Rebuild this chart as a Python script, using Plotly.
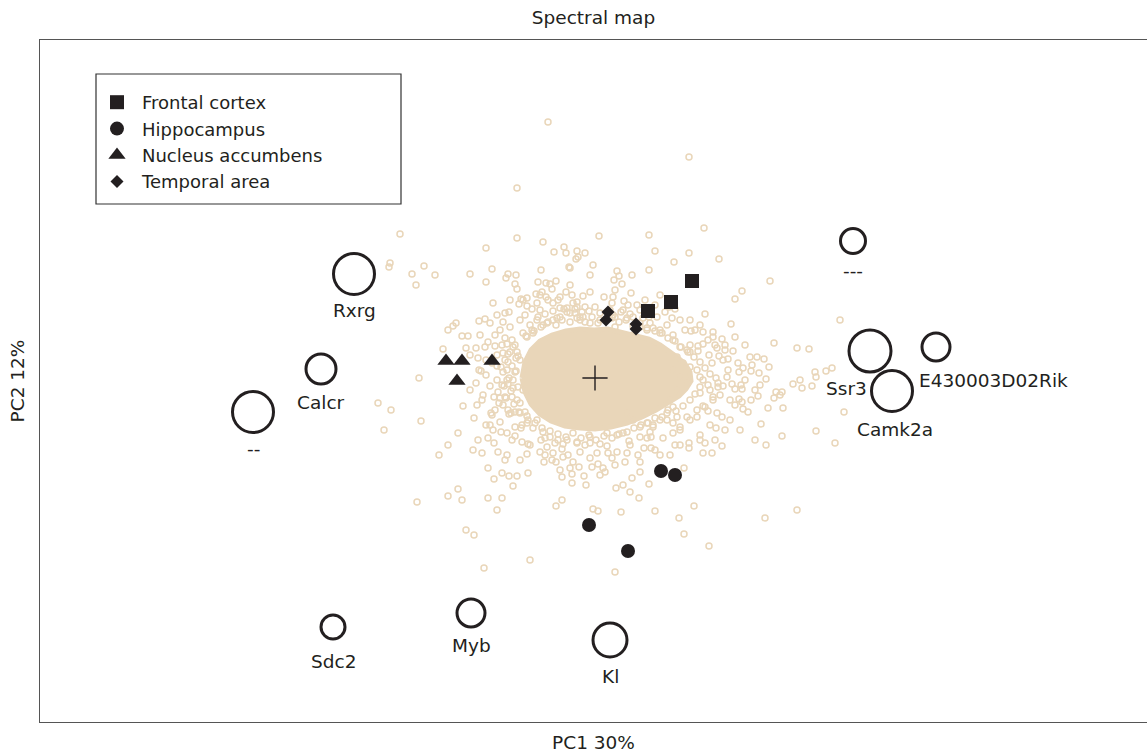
import plotly.graph_objects as go

# ---- PC scores (arbitrary units, centroid at 0,0) ----
# background genes: scattered individual scores
cloud_pc1 = [
    -47, 94, -78, -195, -78, -109, -52, -31, -41, -29, -18, -10, 4, 54, 109, 60, 94, 124, 79, 54,
    175, 147, -205, -206, -183, -171, -179, -160, -125, -103, -109, -87, -89, -79, -80, -78, -54, -57, -49, -45,
    -43, -39, -26, -25, -25, -19, -17, -2, -5, 22, 24, 19, 27, 37, 20, 36, -59, -55, -53, -49,
    -68, -74, -35, -29, 9, 140, -147, -152, -176, -217, -204, -174, -211, -147, -156, -139, -142, -133, -127, -129,
    -116, -110, -105, -119, -110, -100, -102, -98, -86, -116, -114, -119, -105, -132, -137, -121, -122, -113, -101, -97,
    -107, -94, -88, -104, -103, -101, -95, -96, -91, -87, -84, -94, -88, -79, -98, -87, -72, -76, -68, -31,
    -22, -18, -13, -10, -12, 0, 18, 29, 32, 38, 48, 54, 20, 20, 70, 74, 80, 72, 110, 136,
    179, 96, 108, 118, 95, 108, 120, 122, 127, 95, 103, 114, 124, 128, 133, 138, 143, 148, 155, 162,
    169, 174, 144, 156, 164, 171, 132, 137, 146, 147, 202, 198, 205, 181, 185, 187, 144, 147, 156, 163,
    148, 173, 188, 166, 171, 187, 108, 118, 127, 122, 113, 102, 121, 127, 94, 94, 108, 117, 110, 85,
    78, 82, 72, 68, 56, 49, 56, 89, -51, -42, -33, -39, -25, -22, -16, -3, 3, 8, 13, 22,
    32, 35, -68, -73, -80, -48, -67, -78, -86, -93, -101, -107, -33, -23, -5, 5, 2, -82, -178, -147,
    -137, -133, -107, -93, -98, -129, -121, -111, -65, -32, -33, -39, -23, -11, -9, 10, -2, 3, 21, 28,
    37, 35, 44, 54, 26, 60, 20, 84, 89, 99, 114, 170, 202, -18, -67, -54, -40, 245, 214, 220,
    231, 237, 221, 207, 217, 128, 123, 140, 179, 249, 221, 240,
    -63, -47, -12, 17, 45, 60, 95, 105, 130, 150, 160, 135, 130, 105, 80, 65, 45, 20, -50, -75,
    -90, -105, -113, -109, -125, -95, -115, -85,
]
cloud_pc2 = [
    256, 221, 190, 144, 140, 130, 136, 131, 126, 125, 127, 125, 142, 143, 150, 127, 125, 119, 116, 108,
    97, 87, 115, 111, 104, 112, 93, 103, 104, 109, 96, 104, 100, 103, 94, 89, 108, 96, 95, 94,
    89, 97, 111, 110, 93, 119, 121, 113, 103, 107, 102, 98, 94, 103, 88, 85, 84, 83, 86, 81,
    80, 79, 81, 86, 81, 79, 48, 29, 0, -25, -32, -43, -52, -67, -77, 55, 52, 42, 42, 30,
    57, 59, 55, 30, 31, 32, 75, 63, 66, 8, 7, -5, -8, -28, -55, -40, -72, -75, -65, -74,
    -60, -54, -55, -35, -37, -19, -20, -25, -8, -6, -35, 11, 8, 20, 23, 24, 78, 74, 72, 69,
    75, 71, 66, 71, 61, 71, 81, 77, 60, 61, 60, 61, 61, 51, 66, 71, 69, 53, 64, 54,
    35, 47, 46, 46, 33, 34, 33, 30, 39, 26, 27, 23, 22, 18, 19, 27, 15, 10, 21, 21,
    19, 11, 6, 7, 5, -1, 1, -6, -7, -11, 30, -6, -2, -14, -17, -14, -21, -24, -22, -18,
    -31, -30, -30, -46, -67, -58, -28, -19, -39, -35, -33, -39, -50, -68, -65, -70, -75, -75, -65, -52,
    -45, -39, -42, -60, -59, -70, -70, -90, -84, -75, -71, -84, -90, -84, -89, -89, -86, -90, -75, -74,
    -75, -67, -76, -64, -58, -69, -95, -98, -98, -95, -101, -90, -99, -96, -65, -66, -75, -108, -124, -118,
    -111, -122, -120, -120, -132, -152, -157, -190, -182, -79, -122, -128, -105, -98, -107, -94, -131, -133, -110, -107,
    -100, -114, -120, -106, -134, -133, -194, -140, -156, -128, -168, -140, -132, -65, -66, -62, -65, 58, 29, 6,
    7, 10, 1, -10, -8, -8, -9, -11, -20, -34, -53, -65,
    69, 78, 82, 75, 68, 73, 58, 53, 33, -2, -12, -22, -52, -57, -67, -77, -84, -87, -77, -82,
    -82, -47, -22, 18, 23, 48, 43, 78,
]

# genes packed tightly around the dense centre
ring_pc1 = [
    -90, -82, -92, -87, -80, -88, -82, -90, -78, -87, -75, -68, -80, -62, -52, -45, -37, -28, -18, -5,
    12, 22, 28, 45, 52, 58, 78, 85, 92, 102, 110, 118, 105, 115, 123, 105, 95, 92, 118, 78,
    65, 55, 62, 42, 28, 18, 5, -5, -15, -25, -38, -52, -62, -72, -75, -85, -90, -58, -42, -28,
    -18, -83, -78, -75, -82, -77, -72, -83, -75, -80, -70, -67, -73, -58, -68, -63, -57, -48, -42, -35,
    -28, -20, -15, 78, 85, 82, 88, 78, 85, 92, 82, 75, 78, 72, 65, 58, 52, 45, 38, 32,
    65, 58, 52, 45, 38,
    -85, -90, -83, -92, -86, -79, -93, -84, -89, -81, -76, -86, -92, -97, -98, -77, -80, -88,
    -69, -61, -54, -47, -39, -33, -25, -18, -10, -3, 3, 10, 17, 24, 31, 38, 45, 52, 60, 67,
    73, 80, 86, -50, -42, -6, 5, 26, 35, -35, -20, -58, -65,
    93, 99, 105, 102, 110, 115, 108, 105, 113, 100, 95, 88, 81, 103, 117, 121,
    -60, -53, -45, -37, -29, -22, -14, -6, 1, 9, 17, 24, 32, 39, 46, 53, 60, 67, 73, -50,
    -32, -10, 12, 34, 55, -68, -74,
    -92, -100, -107, -93, -117, -103, -109, -98, -125, -112, -118, -100, -109, -95, -83, -102, -117, -88,
    100, 113, 130, 140, 150, 157, 165, 133, 125, 140, 153, 135, 115, 105, 95, 120, 145, 160,
    -70, -55, -37, -23, -5, 15, 33, 50, 65, 85, 90, 77,
    -65, -55, -43, -27, -15, -5, 17, 30, 43, 60, 75, 85, -35, 5, 45,
]
ring_pc2 = [
    40, 31, 25, 16, 6, -2, -10, -19, -22, -32, -35, -45, -49, -50, -54, -59, -62, -62, -64, -59,
    -55, -57, -55, -59, -60, -47, -55, -49, -39, -32, -29, -22, -15, -12, -5, 1, 11, 28, 41, 43,
    48, 55, 61, 73, 68, 63, 58, 55, 61, 65, 60, 53, 45, 45, 58, 51, 65, 75, 75, 70,
    76, 38, 26, 18, -2, -9, -12, -19, -25, -34, -34, -42, -47, -42, 41, 48, 61, 55, 58, 61,
    66, 65, 58, 38, 31, 21, 15, 8, 1, -5, -12, -22, -29, -35, -42, -49, -45, -49, -42, -35,
    45, 50, 48, 51, 43,
    26, 18, 12, 6, 0, 7, -7, -13, -20, -26, -34, -36, -27, -14, 12, 22, 33, 34,
    42, 47, 51, 56, 53, 58, 56, 60, 56, 61, 55, 58, 60, 56, 58, 52, 55, 50, 47, 45,
    40, 37, 31, 64, 67, 67, 65, 66, 64, 70, 69, 58, 53,
    26, 21, 16, 8, 10, 4, -2, -9, -7, -16, -22, -28, -33, 32, 15, 0,
    -45, -50, -53, -56, -59, -55, -60, -57, -62, -58, -60, -56, -54, -50, -47, -45, -40, -39, -32, -60,
    -66, -67, -68, -63, -54, -38, -50,
    56, 43, 36, 33, 20, 15, 3, -2, -12, -17, -27, -32, -47, -44, -62, -52, -62, -77,
    48, 38, 28, 41, 33, 13, -7, 8, -17, -27, -34, -42, -47, -62, -42, -62, -52, -62,
    63, 68, 78, 83, 86, 68, 73, 78, 83, 58, 48, 60,
    -67, -74, -82, -77, -74, -80, -80, -84, -77, -72, -77, -67, -92, -97, -94,
]

# outline of the solidly packed centre of the gene cloud
core_pc1 = [-73, -70, -64, -55, -43, -29, -15, -1, 13, 27, 41, 54, 65, 74, 82, 90, 95, 96, 91, 84,
            73, 61, 47, 32, 16, 0, -15, -30, -44, -55, -64, -70]
core_pc2 = [0, 16, 28, 37, 43, 47, 49, 48, 49, 46, 43, 39, 33, 27, 21, 14, 6, -3, -11, -18,
            -25, -32, -39, -45, -49, -51, -50, -48, -43, -36, -26, -14]

# samples per brain region
frontal_pc1 = [97, 76, 53]
frontal_pc2 = [97, 76, 67]
hippo_pc1 = [66, 80, -6, 33]
hippo_pc2 = [-93, -97, -147, -173]
nacc_pc1 = [-149, -133, -103, -138]
nacc_pc2 = [17, 17, 17, -3]
temporal_pc1 = [13, 11, 41, 41]
temporal_pc2 = [66, 58, 54, 49]

# highlighted genes and their weights (circle size)
genes = ["Rxrg", "Calcr", "--", "---", "Ssr3", "E430003D02Rik", "Camk2a", "Sdc2", "Myb", "Kl"]
gene_pc1 = [-241, -274, -342, 258, 275, 341, 297, -262, -124, 15]
gene_pc2 = [104, 9, -34, 137, 27, 31, -13, -249, -235, -262]
gene_weight = [41, 30, 41, 25, 42, 28, 41, 24, 28, 34]

# label placement (pixel offsets from each gene circle)
label_shift = {
    "Rxrg": (0, -36), "Calcr": (0, -33), "--": (0, -36), "---": (0, -29),
    "Ssr3": (-24, -37), "E430003D02Rik": (57, -33), "Camk2a": (3, -38),
    "Sdc2": (0, -34), "Myb": (0, -32), "Kl": (0, -36),
}

INK = "#231f20"
TAN = "#e9d6b9"
FONT = "DejaVu Sans, Verdana, sans-serif"
FS = 18.5

fig = go.Figure()

fig.add_trace(go.Scatter(
    x=core_pc1 + core_pc1[:1], y=core_pc2 + core_pc2[:1], mode="lines",
    fill="toself", fillcolor=TAN, line=dict(color=TAN, width=5),
    showlegend=False, hoverinfo="skip"))

for cx, cy in ((ring_pc1, ring_pc2), (cloud_pc1, cloud_pc2)):
    fig.add_trace(go.Scatter(
        x=cx, y=cy, mode="markers",
        marker=dict(symbol="circle-open", size=6, color=TAN, opacity=1,
                    line=dict(width=1.5, color=TAN)),
        showlegend=False, hoverinfo="skip"))

groups = [
    ("Frontal cortex", frontal_pc1, frontal_pc2, "square", 14),
    ("Hippocampus", hippo_pc1, hippo_pc2, "circle", 14),
    ("Nucleus accumbens", nacc_pc1, nacc_pc2, "triangle-up", 15),
    ("Temporal area", temporal_pc1, temporal_pc2, "diamond", 10),
]
for name, gx, gy, sym, sz in groups:
    fig.add_trace(go.Scatter(
        x=gx, y=gy, mode="markers", name=name,
        marker=dict(symbol=sym, size=sz, color=INK, opacity=1, line=dict(width=0))))

fig.add_trace(go.Scatter(
    x=gene_pc1, y=gene_pc2, mode="markers", text=genes,
    marker=dict(symbol="circle-open", size=gene_weight, color=INK, opacity=1,
                line=dict(width=3, color=INK)),
    showlegend=False))

# centroid
fig.add_trace(go.Scatter(
    x=[0], y=[0], mode="markers",
    marker=dict(symbol="cross-thin-open", size=18, color=INK, opacity=1,
                line=dict(width=1.4, color=INK)),
    showlegend=False))

for g, gx, gy in zip(genes, gene_pc1, gene_pc2):
    dx, dy = label_shift[g]
    fig.add_annotation(x=gx, y=gy, text=g, showarrow=False, xshift=dx, yshift=dy,
                       font=dict(family=FONT, size=FS, color=INK))

W, H = 1147, 753
ML, MR, MT, MB = 40, 0, 40, 31
PW, PH = W - ML - MR, H - MT - MB


def px_to_paper(px, py):
    return (px - ML) / PW, (H - MB - py) / PH


# legend frame
bx0, by0 = px_to_paper(96, 204)
bx1, by1 = px_to_paper(401, 74)
fig.add_shape(type="rect", xref="paper", yref="paper", x0=bx0, y0=by0, x1=bx1, y1=by1,
              line=dict(color="#333333", width=1.2), fillcolor="rgba(0,0,0,0)")

lx, ly = px_to_paper(92, 84)
fig.update_layout(
    width=W, height=H,
    margin=dict(l=ML, r=MR, t=MT, b=MB),
    paper_bgcolor="white", plot_bgcolor="white",
    font=dict(family=FONT, size=FS, color=INK),
    title=dict(text="Spectral map", x=0.5, xanchor="center", y=1 - 18 / H, yanchor="middle",
               xref="paper", font=dict(family=FONT, size=FS, color=INK)),
    legend=dict(x=lx, y=ly, xanchor="left", yanchor="top", bgcolor="rgba(0,0,0,0)",
                borderwidth=0, font=dict(family=FONT, size=18, color=INK),
                itemsizing="trace", itemwidth=40, tracegroupgap=0),
    showlegend=True,
)
fig.update_xaxes(range=[-555, 552], showgrid=False, zeroline=False, showticklabels=False,
                 ticks="", showline=True, mirror=True, linecolor="#555555", linewidth=1.3,
                 title=dict(text="PC1 30%", standoff=13, font=dict(family=FONT, size=FS, color=INK)))
fig.update_yaxes(range=[-344, 338], showgrid=False, zeroline=False, showticklabels=False,
                 ticks="", showline=True, mirror=False, linecolor="#555555", linewidth=1.3,
                 title=dict(text="PC2 12%", standoff=9, font=dict(family=FONT, size=FS, color=INK)))

fig.write_html("out.html")
